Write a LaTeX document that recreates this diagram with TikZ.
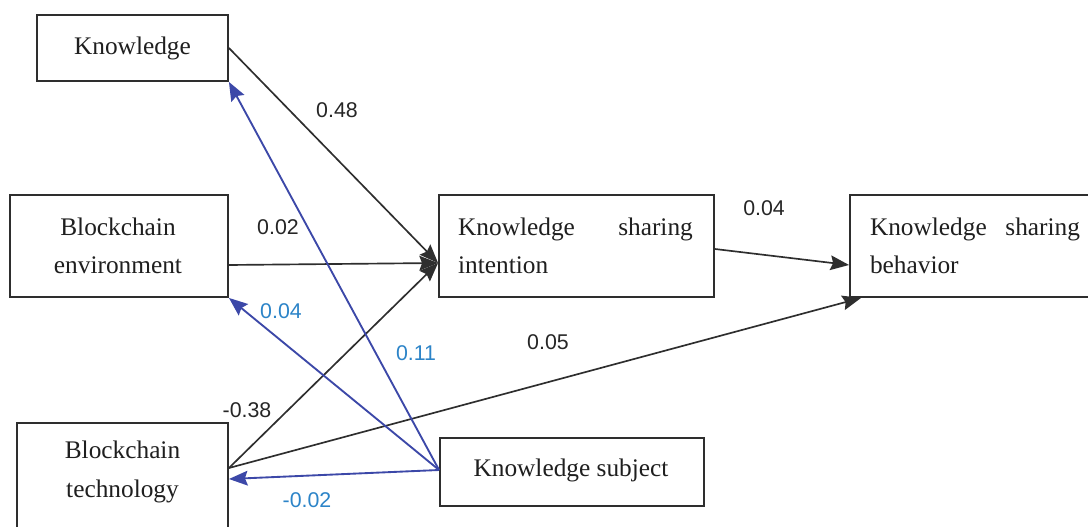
\documentclass[tikz,border=0pt]{standalone}
\usepackage{fontspec}
\setmainfont{Liberation Serif}
\newfontfamily\lblfont{Liberation Sans}
\usetikzlibrary{arrows.meta,calc}
\definecolor{edgeblack}{HTML}{2E2E2E}
\definecolor{edgeblue}{HTML}{3C48A8}
\definecolor{lblblue}{HTML}{2C84C8}
\tikzset{
  box/.style={draw=edgeblack, line width=1.4pt, fill=white, inner sep=0pt},
  boxtext/.style={font=\fontsize{19}{29}\selectfont, inner sep=0pt, text=black!88},
  conn/.style={draw=edgeblack, line width=1.25pt, -{Stealth[length=14pt,width=11pt,inset=2pt]}},
  connb/.style={draw=edgeblue, line width=1.4pt, -{Stealth[length=14pt,width=11pt,inset=2pt]}},
  lbl/.style={font=\lblfont\fontsize{16}{18}\selectfont, inner sep=0pt, text=black!85},
  lblb/.style={font=\lblfont\fontsize{16}{18}\selectfont, inner sep=0pt, text=lblblue}
}
\begin{document}
\begin{tikzpicture}[x=0.75pt,y=-0.75pt]
\useasboundingbox (0,0) rectangle (1088,527);
\clip (0,0) rectangle (1088,527);
\fill[white] (0,0) rectangle (1088,527);
% boxes
\node[box, minimum width=143.25pt, minimum height=49.5pt] (kn) at (132.5,48) {};
\node[boxtext] (kntxt) at (132.5,48) {Knowledge};
\node[box, minimum width=163.5pt, minimum height=76.5pt] (env) at (119,246) {};
\node[boxtext, align=center] (envtxt) at (118,246) {Blockchain\\environment};
\node[box, minimum width=206.25pt, minimum height=76.5pt] (ksi) at (576.5,246) {};
\node[boxtext, text width=176pt, align=left] (ksitxt) at (575.5,246) {Knowledge\hfill sharing\\intention};
\node[box, minimum width=195pt, minimum height=76.5pt] (ksb) at (980,246) {};
\node[boxtext, text width=157.5pt, align=left] (ksbtxt) at (975,246) {Knowledge\hfill sharing\\behavior};
\node[box, minimum width=158.25pt, minimum height=91.5pt] (tech) at (122.5,484) {};
\node[boxtext, align=center] (techtxt) at (122.5,472) {Blockchain\\technology};
\node[box, minimum width=198pt, minimum height=51pt] (subj) at (572,472) {};
\node[boxtext] (subjtxt) at (571,470) {Knowledge subject};
% black connectors
\draw[conn] (kn.east) -- ($(ksi.west)+(0,17)$);
\draw[conn] ($(env.east)+(0,19)$) -- ($(ksi.west)+(0,17)$);
\draw[conn] ($(tech.east)+(0,-16)$) -- ($(ksi.west)+(0,17)$);
\draw[conn] ($(tech.east)+(0,-16)$) -- ($(ksb.south west)+(12,0)$);
\draw[conn] ($(ksi.east)+(0,3)$) -- ($(ksb.west)+(0,19)$);
% blue connectors
\draw[connb] ($(subj.west)+(0,-2)$) -- (kn.south east);
\draw[connb] ($(subj.west)+(0,-2)$) -- (env.south east);
\draw[connb] ($(subj.west)+(0,-2)$) -- ($(tech.east)+(0,-5)$);
% labels
\node[lbl] (l48) at (337,110) {0.48};
\node[lbl] (l02) at (278,227) {0.02};
\node[lblb] (l04b) at (281,311) {0.04};
\node[lblb] (l11) at (416,353) {0.11};
\node[lbl] (l05) at (548,342) {0.05};
\node[lbl] (l38) at (247,410) {-0.38};
\node[lblb] (l02b) at (307,500) {-0.02};
\node[lbl] (l04) at (764,208) {0.04};
\end{tikzpicture}
\end{document}
